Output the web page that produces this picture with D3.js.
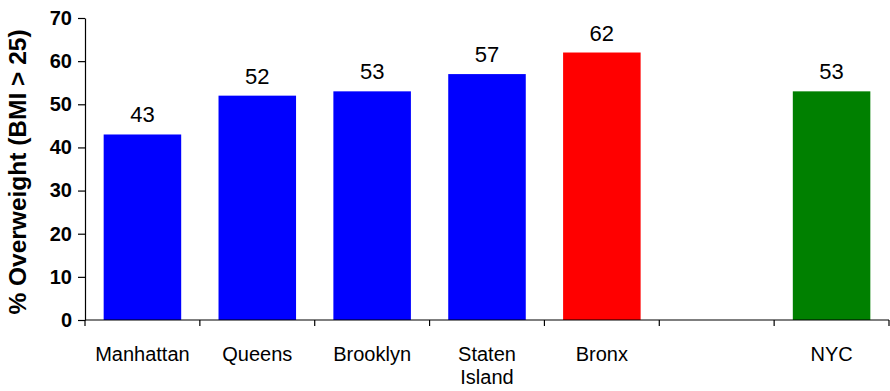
<!DOCTYPE html>
<html>
<head>
<meta charset="utf-8">
<script src="https://cdn.jsdelivr.net/npm/d3@7"></script>
<style>
  html, body { margin: 0; padding: 0; background: #fff; }
  svg { display: block; font-family: Arial, "Liberation Sans", sans-serif; }
</style>
</head>
<body>
<svg id="chart" width="890" height="391"></svg>
<script>
const categories = ["Manhattan", "Queens", "Brooklyn", "Staten Island", "Bronx", "", "NYC"];
const values = [43, 52, 53, 57, 62, null, 53];
const barColors = ["#0000FF", "#0000FF", "#0000FF", "#0000FF", "#FF0000", "#FFFFFF", "#008000"];
const yTicks = [0, 10, 20, 30, 40, 50, 60, 70];
const yTitle = "% Overweight (BMI > 25)";

const svg = d3.select("#chart");
const x0 = 85, x1 = 889, yTop = 18, yBot = 320;

const keys = categories.map((c, i) => i);
const x = d3.scaleBand().domain(keys).range([x0, x1]).paddingInner(0.325).paddingOuter(0.1625);
const y = d3.scaleLinear().domain([0, 70]).range([yBot, yTop]);

// bars
const data = keys.map(i => ({ i, cat: categories[i], v: values[i], c: barColors[i] })).filter(d => d.v != null);
svg.append("g").selectAll("rect").data(data).join("rect")
  .attr("x", d => x(d.i))
  .attr("y", d => y(d.v))
  .attr("width", x.bandwidth())
  .attr("height", d => y(0) - y(d.v))
  .attr("fill", d => d.c);

// value labels
svg.append("g").selectAll("text").data(data).join("text")
  .attr("x", d => x(d.i) + x.bandwidth() / 2)
  .attr("y", d => y(d.v) - 12)
  .attr("text-anchor", "middle")
  .attr("font-size", "22px")
  .attr("fill", "#000")
  .text(d => d.v);

// y axis
const yAxis = d3.axisLeft(y).tickValues(yTicks).tickSize(7).tickPadding(6).tickSizeOuter(0);
const gy = svg.append("g").attr("transform", `translate(${x0},0)`).call(yAxis);
gy.select(".domain").attr("stroke", "#000").attr("stroke-width", 1.2);
gy.selectAll(".tick line").attr("stroke", "#000").attr("stroke-width", 1.2);
gy.selectAll(".tick text").attr("font-size", "20px").attr("font-weight", "bold").attr("fill", "#000")
  .attr("font-family", "Arial, 'Liberation Sans', sans-serif");

// x axis line
svg.append("line").attr("x1", x0).attr("x2", x1).attr("y1", yBot).attr("y2", yBot)
  .attr("stroke", "#000").attr("stroke-width", 1.2);
// x ticks at band boundaries
const bounds = d3.range(categories.length + 1).map(i => x0 + i * x.step());
svg.append("g").selectAll("line").data(bounds).join("line")
  .attr("x1", d => d).attr("x2", d => d).attr("y1", yBot).attr("y2", yBot + 6)
  .attr("stroke", "#000").attr("stroke-width", 1.2);

// category labels
const cl = svg.append("g").selectAll("text").data(keys).join("text")
  .attr("text-anchor", "middle")
  .attr("font-size", "20px")
  .attr("fill", "#000");
cl.each(function(i) {
  const t = d3.select(this);
  const cx = x(i) + x.bandwidth() / 2;
  const words = categories[i] === "Staten Island" ? categories[i].split(" ") : [categories[i]];
  words.forEach((w, k) => {
    t.append("tspan").attr("x", cx).attr("y", 361 + k * 23).text(w);
  });
});

// y title
svg.append("text")
  .attr("transform", `translate(26,172) rotate(-90)`)
  .attr("text-anchor", "middle")
  .attr("font-size", "24.5px")
  .attr("font-weight", "bold")
  .attr("fill", "#000")
  .text(yTitle);
</script>
</body>
</html>
